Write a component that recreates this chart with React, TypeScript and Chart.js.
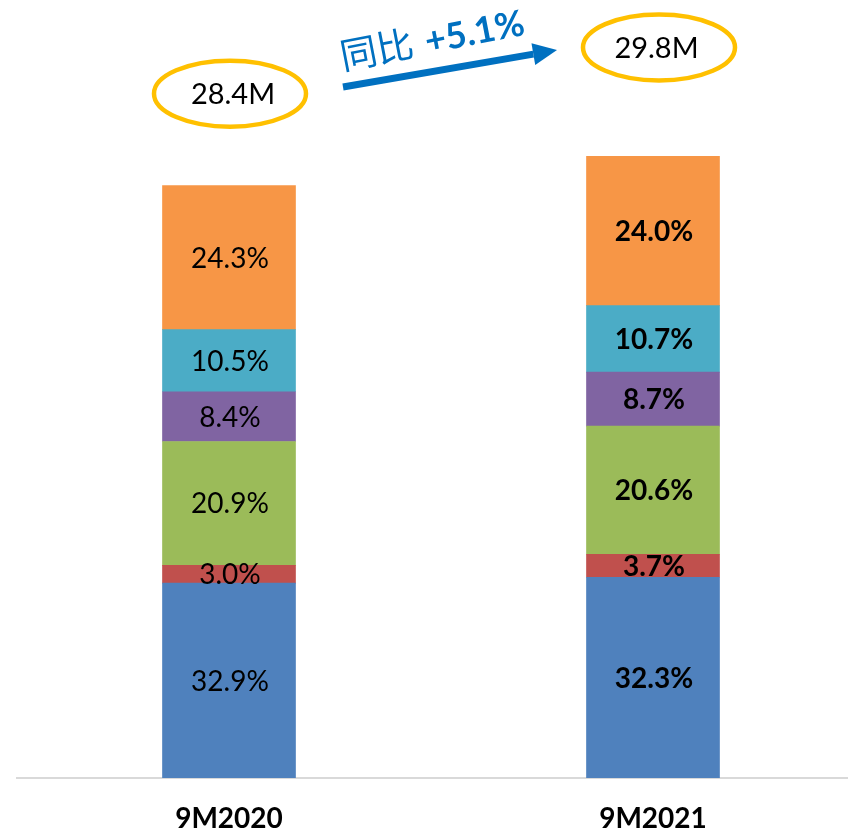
import React, { useEffect, useRef } from "react";
import { Chart, registerables } from "chart.js";

Chart.register(...registerables);

// ---- data ----
const categories = ["9M2020", "9M2021"];
const totals = [28.4, 29.8]; // millions
const totalLabels = ["28.4M", "29.8M"];
const yoyPrefix = "同比";
const yoyValue = "+5.1%";

// share (%) of each segment, bottom to top
const blueShare = [32.9, 32.3];
const redShare = [3.0, 3.7];
const greenShare = [20.9, 20.6];
const purpleShare = [8.4, 8.7];
const tealShare = [10.5, 10.7];
const orangeShare = [24.3, 24.0];

const segmentShares = [blueShare, redShare, greenShare, purpleShare, tealShare, orangeShare];
const segmentColors = ["#4F81BD", "#C0504D", "#9BBB59", "#8064A2", "#4BACC6", "#F79646"];

const FONT = "Lato, 'Noto Sans', sans-serif";

const annotationPlugin = {
  id: "annotations",
  afterDatasetsDraw(chart: any) {
    const ctx = chart.ctx as CanvasRenderingContext2D;
    ctx.save();
    // segment labels
    chart.data.datasets.forEach((ds: any, di: number) => {
      const meta = chart.getDatasetMeta(di);
      meta.data.forEach((bar: any, i: number) => {
        const { x, y, base } = bar.getProps(["x", "y", "base"], true);
        const share = segmentShares[di][i];
        ctx.font = `${i === 1 ? "bold " : ""}28px ${FONT}`;
        ctx.fillStyle = "#000";
        ctx.textAlign = "center";
        ctx.textBaseline = "middle";
        ctx.fillText(share.toFixed(1) + "%", x + 1, (y + base) / 2 + 1);
      });
    });

    // total ellipses
    const lastMeta = chart.getDatasetMeta(chart.data.datasets.length - 1);
    const offsets = [
      { dx: 1, dy: 92, tx: 4 },
      { dx: 6, dy: 109, tx: 3.5 },
    ];
    lastMeta.data.forEach((bar: any, i: number) => {
      const { x, y } = bar.getProps(["x", "y"], true);
      const cx = x + offsets[i].dx;
      const cy = y - offsets[i].dy;
      ctx.beginPath();
      ctx.ellipse(cx, cy, 76, 33, 0, 0, Math.PI * 2);
      ctx.strokeStyle = "#FFC000";
      ctx.lineWidth = 4.5;
      ctx.stroke();
      ctx.font = `29px ${FONT}`;
      ctx.fillStyle = "#000";
      ctx.textAlign = "center";
      ctx.textBaseline = "middle";
      ctx.fillText(totalLabels[i], x + offsets[i].tx, cy + 1);
    });

    // arrow
    const x0 = 343, y0 = 87, x1 = 557, y1 = 50;
    const ang = Math.atan2(y1 - y0, x1 - x0);
    const headLen = 24;
    const headHalf = 11;
    const bx = x1 - headLen * Math.cos(ang);
    const by = y1 - headLen * Math.sin(ang);
    ctx.strokeStyle = "#0070C0";
    ctx.fillStyle = "#0070C0";
    ctx.lineWidth = 7;
    ctx.lineCap = "butt";
    ctx.beginPath();
    ctx.moveTo(x0, y0);
    ctx.lineTo(bx, by);
    ctx.stroke();
    ctx.beginPath();
    ctx.moveTo(x1, y1);
    ctx.lineTo(bx + headHalf * Math.sin(ang), by - headHalf * Math.cos(ang));
    ctx.lineTo(bx - headHalf * Math.sin(ang), by + headHalf * Math.cos(ang));
    ctx.closePath();
    ctx.fill();

    // yoy text
    ctx.save();
    ctx.translate(343, 70);
    ctx.rotate(ang - 0.02);
    ctx.textAlign = "left";
    ctx.textBaseline = "alphabetic";
    ctx.fillStyle = "#0070C0";
    ctx.font = `37px 'Noto Sans CJK SC', sans-serif`;
    ctx.fillText(yoyPrefix, 0, 0);
    const w = ctx.measureText(yoyPrefix).width;
    ctx.font = `bold 36px ${FONT}`;
    ctx.fillText(yoyValue, w + 12, 0);
    ctx.restore();

    ctx.restore();
  },
};

export default function App() {
  const canvasRef = useRef<HTMLCanvasElement>(null);

  useEffect(() => {
    const canvas = canvasRef.current;
    if (!canvas) return;
    const chart = new Chart(canvas, {
      type: "bar",
      data: {
        labels: categories,
        datasets: segmentShares.map((share, di) => ({
          label: `S${di + 1}`,
          data: share.map((p, i) => (totals[i] * p) / 100),
          backgroundColor: segmentColors[di],
          borderWidth: 0,
          barThickness: 133,
        })),
      },
      options: {
        responsive: false,
        animation: false,
        devicePixelRatio: 1,
        layout: { padding: { left: 17, right: 0, top: 0, bottom: 0 } },
        plugins: {
          legend: { display: false },
          tooltip: { enabled: false },
        },
        scales: {
          x: {
            stacked: true,
            grid: { display: false, drawTicks: false },
            border: { display: true, color: "#D9D9D9", width: 2 },
            ticks: {
              color: "#000",
              padding: 24,
              font: { family: FONT, size: 28, weight: "bold" },
            },
            afterFit(scale: any) {
              scale.height = 54;
            },
          },
          y: {
            stacked: true,
            display: false,
            min: 0,
            max: 37.3,
          },
        },
      },
      plugins: [annotationPlugin],
    });
    return () => chart.destroy();
  }, []);

  return (
    <div
      style={{
        position: "absolute",
        left: 0,
        top: 0,
        width: 848,
        height: 832,
        overflow: "hidden",
        background: "#fff",
      }}
    >
      <canvas ref={canvasRef} width={865} height={832} />
    </div>
  );
}
